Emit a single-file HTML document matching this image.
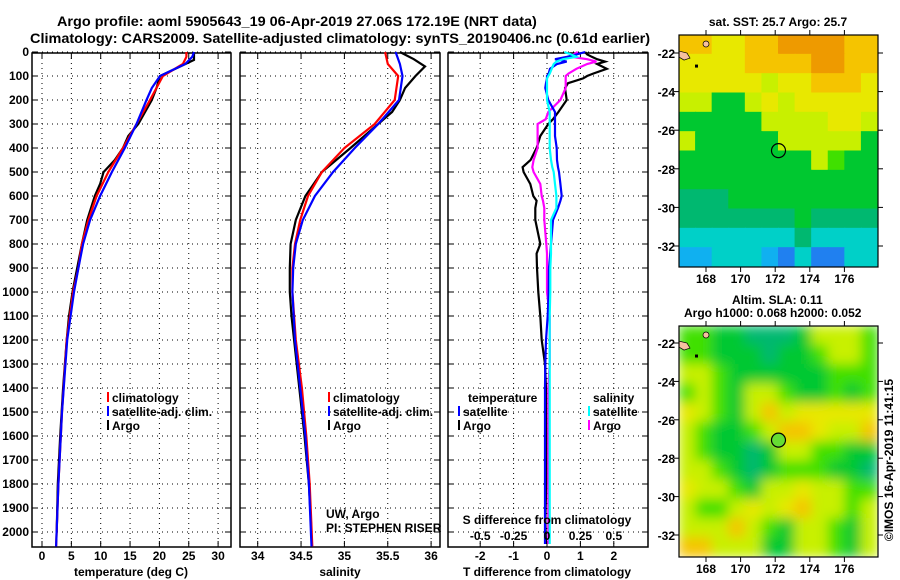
<!DOCTYPE html>
<html><head><meta charset="utf-8"><style>
body{margin:0;background:#fff;}
svg{display:block;font-family:"Liberation Sans",sans-serif;}
.t{font-weight:bold;font-size:12px;fill:#000;}
</style></head><body>
<svg id="c" width="900" height="580" viewBox="0 0 900 580">
<text id="t1" x="0" y="26" style="font-size:14px;font-weight:bold">Argo profile: aoml 5905643_19 06-Apr-2019 27.06S 172.19E (NRT data)</text>
<text id="t2" x="0" y="43" style="font-size:14px;font-weight:bold">Climatology: CARS2009. Satellite-adjusted climatology: synTS_20190406.nc (0.61d earlier)</text>
<g id="g"></g>
</svg>
<script>
// ---------- data ----------
const depthTicks=[0,100,200,300,400,500,600,700,800,900,1000,1100,1200,1300,1400,1500,1600,1700,1800,1900,2000];
const tempTicks=[0,5,10,15,20,25,30];
const salTicks=[34,34.5,35,35.5,36];
const dTTicks=[-2,-1,0,1,2];
const dSTicks=[-0.5,-0.25,0,0.25,0.5];
const latTicks=[-22,-24,-26,-28,-30,-32];
const lonTicks=[168,170,172,174,176];

const tempClimDepth=[0,20,50,100,200,300,400,500,600,700,800,900,1000,1200,1500,1800,2060];
const tempClim=[24.6,24.6,24.0,20.6,18.4,16.1,13.8,11.3,9.3,7.9,6.8,6.2,5.3,4.2,3.4,2.8,2.4];
const tempSatDepth=[0,20,50,100,150,200,300,400,500,600,700,800,900,1000,1200,1500,1800,2060];
const tempSat=[25.9,25.6,24.4,20.1,18.7,17.8,16.1,14.1,11.9,9.9,8.2,7.0,6.2,5.45,4.3,3.4,2.8,2.4];
const tempArgoDepth=[0,33,61,100,150,200,300,350,400,450,500,550,600,700,800,900,1000,1100,1200,1400,1600,1800,2000];
const tempArgo=[25.9,25.9,23.5,20.1,19.5,18.7,16.4,14.7,13.8,12.4,10.5,9.9,9.0,7.7,6.8,6.0,5.2,4.6,4.2,3.6,3.1,2.7,2.5];

const salClimDepth=[0,50,100,200,300,400,500,600,700,800,900,1000,1200,1400,1600,1800,2060];
const salClim=[35.47,35.5,35.62,35.58,35.35,35.0,34.74,34.58,34.49,34.43,34.4,34.4,34.44,34.51,34.56,34.6,34.63];
const salSatDepth=[0,50,100,200,300,400,500,600,700,800,900,1000,1200,1400,1600,1800,2060];
const salSat=[35.59,35.64,35.67,35.63,35.39,35.12,34.87,34.66,34.52,34.44,34.41,34.4,34.43,34.49,34.55,34.59,34.62];
const salArgoDepth=[0,30,60,100,150,200,250,300,400,500,600,700,800,900,1000,1100,1200,1400,1600,1800,2000];
const salArgo=[35.64,35.8,35.93,35.82,35.7,35.64,35.55,35.39,35.07,34.74,34.55,34.44,34.38,34.37,34.37,34.39,34.42,34.48,34.54,34.59,34.62];

const dDepth=[0,10,20,30,40,50,70,90,100,110,130,150,200,250,280,300,350,400,450,480,500,550,600,620,650,700,800,840,900,1000,1100,1200,1300,1400,1600,1800,1950,2050];
const dTArgo=[1.14,1.2,1.34,1.5,1.74,1.5,1.79,1.38,1.2,1.08,0.63,0.54,0.59,0.34,0.18,0.04,-0.2,-0.31,-0.49,-0.73,-0.7,-0.5,-0.41,-0.31,-0.35,-0.35,-0.2,-0.31,-0.3,-0.26,-0.2,-0.16,-0.06,-0.03,-0.02,-0.02,-0.05,-0.03];
const dTSat=[1.14,0.89,0.6,0.24,0.59,0.3,0.09,0.05,0,0,-0.03,-0.05,0.04,0.24,0.24,0.24,0.24,0.29,0.3,0.33,0.36,0.4,0.44,0.4,0.33,0.18,0.12,0.1,0.06,0.05,0.02,-0.03,-0.05,-0.06,-0.06,-0.06,-0.06,-0.06];
const dSArgo=[0.23,0.2,0.18,0.3,0.37,0.3,0.22,0.16,0.14,0.14,0.14,0.14,0.1,0.01,-0.01,-0.07,-0.07,-0.07,-0.1,-0.11,-0.1,-0.05,-0.04,-0.03,-0.02,-0.02,-0.005,0,0,0,0.02,0.02,0.02,0.01,0.01,0.01,0.01,0.01];
const dSSat=[0.13,0.18,0.22,0.12,0.07,0.05,0.035,0.02,0.01,0,0,0,0,0.02,0.02,0.02,0.02,0.02,0.03,0.04,0.05,0.06,0.07,0.07,0.07,0.03,0.03,0.03,0.025,0.025,0.02,0.02,0.02,0.02,0.02,0.02,0.02,0.02];

// map colour codes (rows top->bottom, 12 cols)
const sstRows=["ooYYooOOOOoo","YYYYooooOOoo","YYYYYyYYoooY","yyGGyYyYYYYY","GGGGGyyyyYYy","yGGGGGyyyyyG","GGGGGGGGygGG","GGGGGGGGGGGG","TTTGGGGGGGGG","TTTTTTTGTTTT","CCCCCCCTCCCC","BBCCCBbCbbCC"];
const slaRows=["ggGGTTTGyyyg","ggGGGTGGgyyg","yygGGGGGGggg","gygGyygGGgGg","YygGyoyYYYYY","ygGGgyooYyyo","ygGGTGyyggGG","yygGTGgggGGT","YyygGyyYyygg","yggyYyYoyygy","yyyoygGyygGy","ooyyyGGyygGy"];
const mapPalette={O:"#ee9a00",o:"#f5c400",Y:"#e8e800",y:"#c8f000",g:"#40e000",G:"#00c830",T:"#00b870",C:"#00d0c8",B:"#10b0f0",b:"#2080f0",D:"#0010a0"};
const argoLon=172.19, argoLat=-27.06;

// ---------- drawing ----------
const NS="http://www.w3.org/2000/svg";
const G=document.getElementById('g');
function el(tag,attrs,parent){const e=document.createElementNS(NS,tag);for(const k in attrs)e.setAttribute(k,attrs[k]);(parent||G).appendChild(e);return e;}
function txt(x,y,s,anchor,cls,extra){const e=el('text',Object.assign({x:x,y:y,'text-anchor':anchor||'start','class':cls||'t'},extra||{}));e.textContent=s;return e;}
function fitTitle(id,x,w){const t=document.getElementById(id);const n=t.getComputedTextLength()||w;t.setAttribute('transform','translate('+x+',0) scale('+(w/n)+',1)');}
fitTitle('t1',57,480);
fitTitle('t2',30,621);
const pTop=53,pBot=547;
const yD=d=>52+d*0.24;
const xT=t=>42+t*5.87;
const xS=s=>257.7+(s-34)*86.7;
const xdT=t=>547+t*33.4;
const xdS=s=>547+s*133.6;

function panel(x0,x1,name,vticks,xf){
  const g=el('g',{});
  
  
  depthTicks.forEach(d=>{el('line',{x1:x0,x2:x1,y1:yD(d),y2:yD(d),stroke:'#000','stroke-dasharray':'1,4','stroke-width':1},g);
    el('line',{x1:x0,x2:x0+6,y1:yD(d),y2:yD(d),stroke:'#000'},g);el('line',{x1:x1-6,x2:x1,y1:yD(d),y2:yD(d),stroke:'#000'},g);});
  vticks.forEach(v=>{const x=xf(v);el('line',{x1:x,x2:x,y1:pTop,y2:pBot,stroke:'#000','stroke-dasharray':'1,4'},g);
    el('line',{x1:x,x2:x,y1:pTop,y2:pTop+6,stroke:'#000'},g);el('line',{x1:x,x2:x,y1:pBot-6,y2:pBot,stroke:'#000'},g);});
  el('rect',{x:x0,y:pTop,width:x1-x0,height:pBot-pTop,fill:'none',stroke:'#000','stroke-width':1.5},g);
  return g;
}
function line(xs,ds,xf,color,name,w){
  const p=xs.map((v,i)=>xf(v).toFixed(1)+','+yD(ds[i]).toFixed(1)).join(' ');
  const e=el('polyline',{points:p,fill:'none',stroke:color,'stroke-width':w||2.2});
  
  
}
// temperature panel
panel(32,231,'temperature-panel',tempTicks,xT);
line(tempArgo,tempArgoDepth,xT,'#000','temp-argo-line');
line(tempClim,tempClimDepth,xT,'#f00','temp-climatology-line');
line(tempSat,tempSatDepth,xT,'#00f','temp-satellite-line');
depthTicks.forEach(d=>txt(29,yD(d)+4,String(d),'end'));
tempTicks.forEach(t=>txt(xT(t),560,String(t),'middle'));
txt(131,576,'temperature (deg C)','middle');
// salinity panel
panel(240,440,'salinity-panel',salTicks,xS);
line(salArgo,salArgoDepth,xS,'#000','sal-argo-line');
line(salClim,salClimDepth,xS,'#f00','sal-climatology-line');
line(salSat,salSatDepth,xS,'#00f','sal-satellite-line');
salTicks.forEach(s=>txt(xS(s),560,String(s),'middle'));
txt(340,576,'salinity','middle');
txt(326,518,'UW, Argo','start','',{style:'font-size:12px'});
txt(326,532,'PI: STEPHEN RISER','start','',{style:'font-size:12px'});
// diff panel
panel(448,648,'difference-panel',dTTicks,xdT);
line(dTArgo,dDepth,xdT,'#000','dT-argo-line');
line(dSArgo,dDepth,xdS,'#f0f','dS-argo-line');
line(dTSat,dDepth,xdT,'#00f','dT-satellite-line');
line(dSSat,dDepth,xdS,'#0ff','dS-satellite-line');
dTTicks.forEach(t=>txt(xdT(t),560,String(t),'middle'));
txt(547,576,'T difference from climatology','middle');
txt(547,524,'S difference from climatology','middle');
dSTicks.forEach(s=>txt(xdS(s),540,String(s),'middle'));
// legends
function leg(x,y,color,label,name){
  const g=el('g',{});
  if(color)el('rect',{x:x,y:y-10,width:2,height:10,fill:color},g);
  const t=el('text',{x:x+5,y:y,'class':'t'},g);t.textContent=label;
}
leg(107,402,'#f00','climatology','legend-temp-climatology');
leg(107,416,'#00f','satellite-adj. clim.','legend-temp-satellite');
leg(107,430,'#000','Argo','legend-temp-argo');
leg(328,402,'#f00','climatology','legend-sal-climatology');
leg(328,416,'#00f','satellite-adj. clim.','legend-sal-satellite');
leg(328,430,'#000','Argo','legend-sal-argo');
leg(463,402,null,'temperature','legend-diff-temperature');
leg(458,416,'#00f','satellite','legend-diff-t-satellite');
leg(458,430,'#000','Argo','legend-diff-t-argo');
leg(588,402,null,'salinity','legend-diff-salinity');
leg(588,416,'#0ff','satellite','legend-diff-s-satellite');
leg(588,430,'#f0f','Argo','legend-diff-s-argo');

// maps
function map(x0,y0,x1,y1,lat22y,lat32y,rows,name,blur,fillMarker){
  const lonX=l=>706+(l-168)*17.3;
  const latY=la=>lat22y+(-22-la)*(lat32y-lat22y)/10;
  const g=el('g',{});
  const cid='clip'+name;
  const cp=el('clipPath',{id:cid},g);el('rect',{x:x0,y:y0,width:x1-x0,height:y1-y0},cp);
  const inner=el('g',{'clip-path':'url(#'+cid+')'},g);
  const inner2=el('g',blur?{filter:'url(#blur)'}:{},inner);
  const cw=(x1-x0)/12,ch=(y1-y0)/rows.length;
  rows.forEach((r,i)=>{for(let j=0;j<12;j++){el('rect',{x:x0+j*cw-0.5,y:y0+i*ch-0.5,width:cw+1,height:ch+1,fill:mapPalette[r[j]]},inner2);}});
  el('path',{d:`M${x0},${latY(-21.9)} l8,2 l3,5 l-6,2 l-5,-3z`,fill:'#f5c0a0',stroke:'#000','stroke-width':0.7},inner);
  el('circle',{cx:x0+27,cy:y0+9,r:3,fill:'#f5c0a0',stroke:'#000','stroke-width':0.7},inner);
  el('rect',{x:x0+16,y:latY(-22.6),width:3,height:3,fill:'#000'},inner);
  const m=el('circle',{cx:lonX(argoLon),cy:latY(argoLat),r:7,fill:fillMarker?'#66dd33':'none',stroke:'#000','stroke-width':1.2},g);
  
  
  el('rect',{x:x0,y:y0,width:x1-x0,height:y1-y0,fill:'none',stroke:'#000','stroke-width':1.2},g);
  latTicks.forEach(la=>{const y=latY(la);el('line',{x1:x0-5,x2:x0,y1:y,y2:y,stroke:'#000'},g);el('line',{x1:x1,x2:x1+5,y1:y,y2:y,stroke:'#000'},g);
    txt(x0-4,y+5,String(la),'end');});
  lonTicks.forEach(l=>{const x=lonX(l);el('line',{x1:x,x2:x,y1:y0-5,y2:y0,stroke:'#000'},g);el('line',{x1:x,x2:x,y1:y1,y2:y1+5,stroke:'#000'},g);
    txt(x,y1+16,String(l),'middle');});
}
const defs=el('defs',{});const f=el('filter',{id:'blur',x:'-5%',y:'-5%',width:'110%',height:'110%'},defs);el('feGaussianBlur',{stdDeviation:6},f);
map(679,35,878,267,53,246,sstRows,'sst-map',false,false);
map(679,326,878,557,343,535,slaRows,'sla-map',true,true);
txt(778,26,'sat. SST: 25.7 Argo: 25.7','middle');
txt(732,304,'Altim. SLA: 0.11','start');
txt(684,317,'Argo h1000: 0.068 h2000: 0.052','start');
txt(893,460,'©IMOS 16-Apr-2019 11:41:15','middle','',{transform:'rotate(-90 893 460)',style:'font-size:12px'});
</script>
</body></html>
